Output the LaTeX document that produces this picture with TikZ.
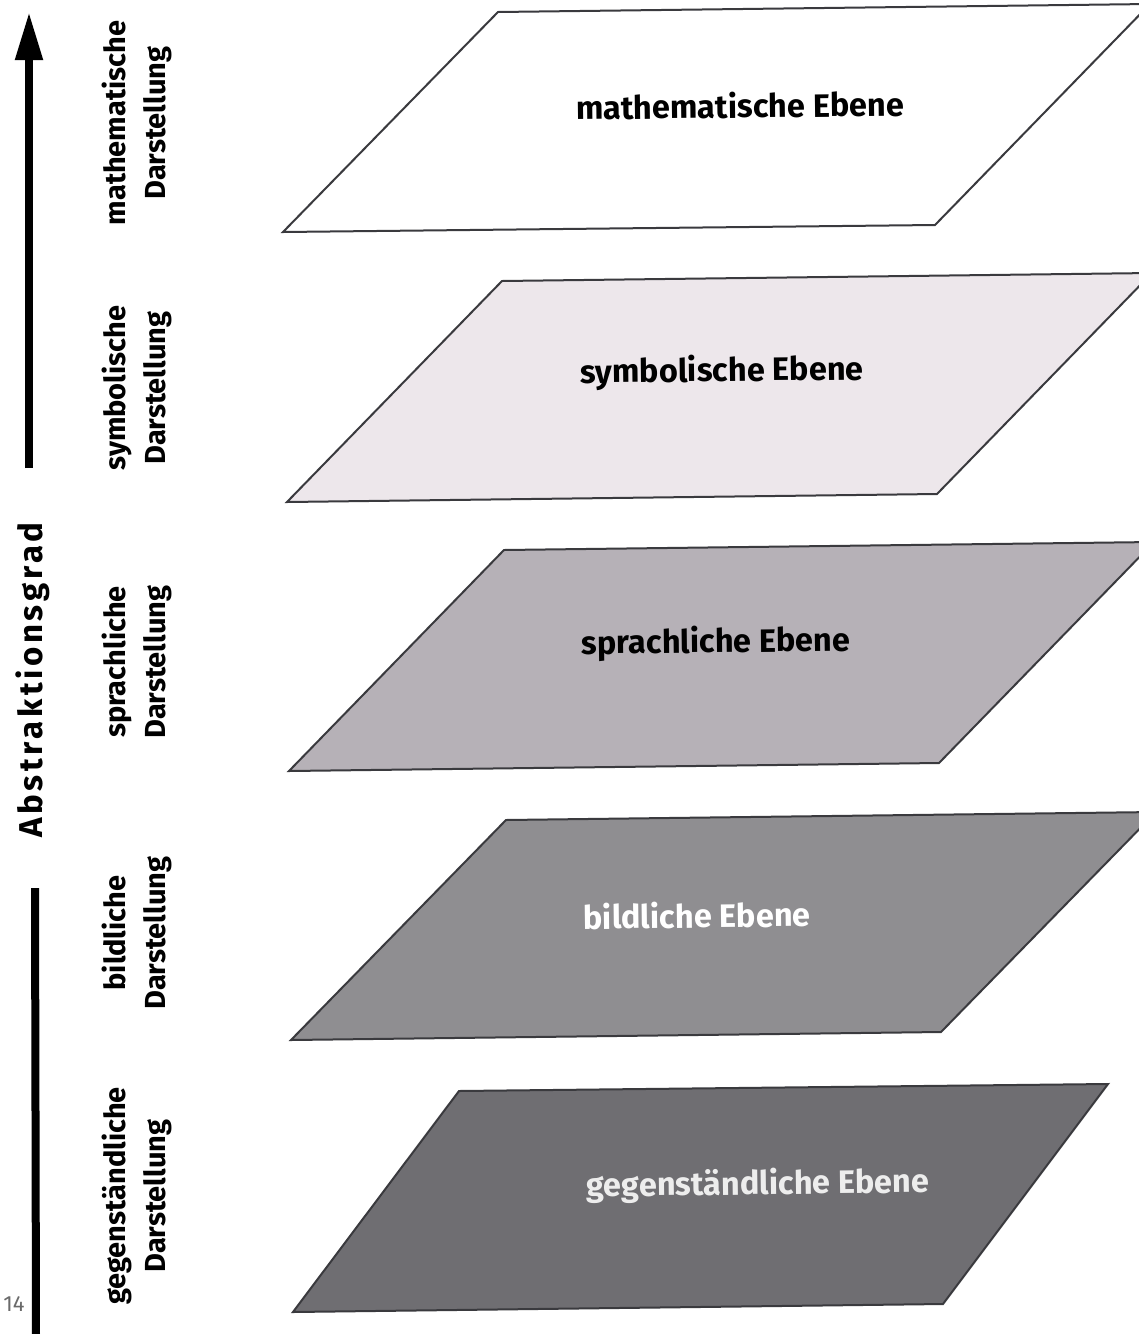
\documentclass[tikz,border=0pt]{standalone}
\usepackage{fontspec}
\setmainfont{Fira Sans}
\usetikzlibrary{arrows.meta}

\definecolor{planeA}{HTML}{FFFFFF}
\definecolor{planeB}{HTML}{EDE7EB}
\definecolor{planeC}{HTML}{B6B1B7}
\definecolor{planeD}{HTML}{8F8E91}
\definecolor{planeE}{HTML}{6F6E72}
\definecolor{edgec}{HTML}{3A3A3E}
\definecolor{pagenum}{HTML}{6A6A6A}

\tikzset{
  plane/.style={draw=edgec, line width=2pt, line join=miter},
  planelabel/.style={font=\bfseries\fontsize{32.5}{36}\selectfont, inner sep=0pt, rotate=0.7},
  sidelabel/.style={font=\bfseries\fontsize{29}{40}\selectfont, align=center, rotate=90, inner sep=0pt},
  axislabel/.style={font=\bfseries\fontsize{33}{36}\selectfont\addfontfeatures{LetterSpace=11}, rotate=90, inner sep=0pt},
  axis/.style={line width=8pt, black}
}

\begin{document}
\begin{tikzpicture}[x=1pt, y=-1pt]
\useasboundingbox[fill=white] (0,0) rectangle (1139,1334);

% planes, from the most abstract (top) to the most concrete (bottom)
\draw[plane, fill=planeA] (498,12) -- (1150,4) -- (935,225) -- (283,232) -- cycle;
\draw[plane, fill=planeB] (502,281) -- (1152,273) -- (937,494) -- (287,502) -- cycle;
\draw[plane, fill=planeC] (504,550) -- (1154,542) -- (939,763) -- (289,771) -- cycle;
\draw[plane, fill=planeD] (506,820) -- (1156,812) -- (941,1032) -- (291,1040) -- cycle;
\draw[plane, fill=planeE] (459,1091) -- (1108,1084) -- (943,1304) -- (293,1312) -- cycle;

\node[planelabel] (lm) at (740,105) {mathematische Ebene};
\node[planelabel] (ls) at (722,372) {symbolische Ebene};
\node[planelabel] (lp) at (716,643) {sprachliche Ebene};
\node[planelabel, text=white] (lb) at (697,915) {bildliche Ebene};
\node[planelabel, text=white!93!black] (lg) at (758,1185) {gegenständliche Ebene};

% representation labels
\node[sidelabel] (dm) at (137,123) {mathematische\\Darstellung};
\node[sidelabel] (ds) at (137,388) {symbolische\\Darstellung};
\node[sidelabel] (dp) at (137,662) {sprachliche\\Darstellung};
\node[sidelabel] (db) at (137,933) {bildliche\\Darstellung};
\node[sidelabel] (dg) at (137,1196) {gegenständliche\\Darstellung};

% abstraction axis
\node[axislabel] (ax) at (33,680) {Abstraktionsgrad};
\coordinate (axtip) at (29,12);
\coordinate (axmid) at (29,468);
\coordinate (axlow) at (35,888);
\coordinate (axend) at (36,1334);
\draw[axis, -{Triangle[width=26pt,length=48pt]}] (axmid) -- (axtip);
\draw[axis] (axlow) -- (axend);

% page number
\node[text=pagenum, font=\fontsize{22}{24}\selectfont, inner sep=0pt] (pg) at (14,1304) {14};
\end{tikzpicture}
\end{document}
